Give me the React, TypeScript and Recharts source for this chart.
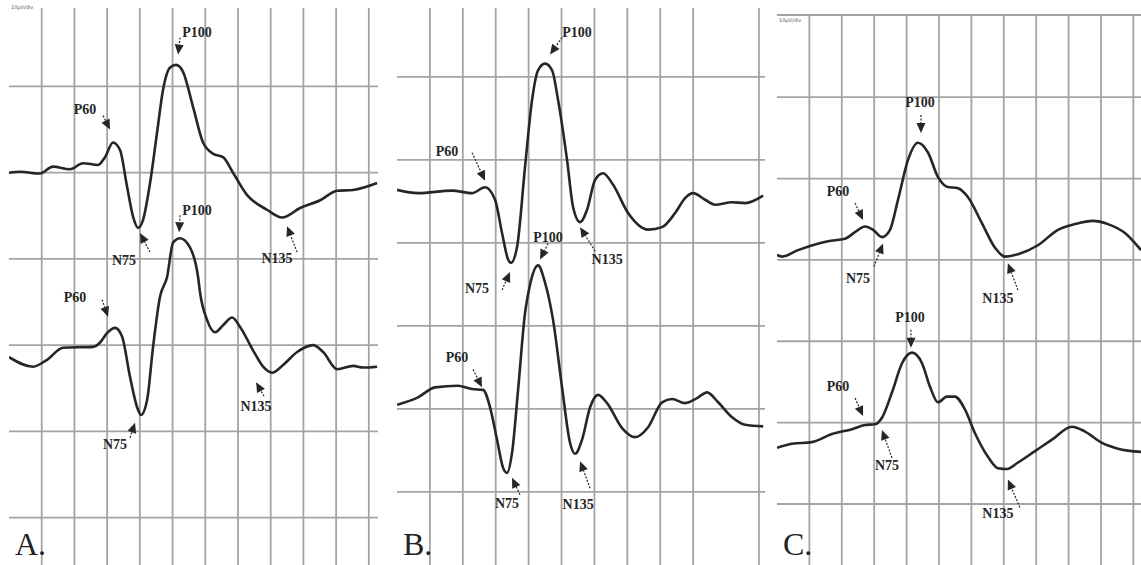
import React from 'react';
import { LineChart, Line, XAxis, YAxis, CartesianGrid, ReferenceDot, ReferenceLine } from 'recharts';

// time in ms (25 ms / division), amplitude in µV (10 µV / division)
const timeTicks = [0, 25, 50, 75, 100, 125, 150, 175, 200, 225, 250, 275];
const ampTicks = [-30, -20, -10, 0, 10, 20];

const aTop = [
  [0, 10.0], [8.4, 10.1], [23.7, 9.9], [33.6, 10.7], [46.6, 10.4], [56.6, 11.1], [68.0, 10.9],
  [73.4, 11.8], [79.5, 13.5], [84.9, 12.6], [90.2, 8.4], [94.8, 4.9], [98.6, 3.6], [102.4, 4.5],
  [107.8, 8.8], [113.1, 14.6], [117.7, 19.6], [123.1, 22.2], [127.7, 22.5], [133.0, 21.7],
  [140.7, 17.6], [148.3, 13.5], [156.0, 12.2], [163.6, 11.8], [171.2, 10.0], [182.0, 7.4],
  [197.2, 5.7], [208.7, 4.8], [222.5, 5.9], [237.8, 6.8], [250.8, 7.9], [263.0, 8.0], [281.3, 8.8],
];
const aBottom = [
  [0, -11.4], [18.3, -12.5], [29.1, -11.7], [41.3, -10.3], [64.2, -10.2], [69.6, -9.7], [74.9, -8.6],
  [81.0, -8.0], [86.4, -9.0], [92.5, -13.7], [97.9, -17.2], [100.9, -18.1], [105.5, -16.4],
  [110.1, -10.2], [115.4, -4.4], [120.8, -2.1], [125.4, 1.9], [130.7, 2.4], [138.4, 1.3],
  [144.5, -2.1], [146.0, -3.9], [151.4, -7.1], [157.5, -8.5], [163.6, -7.7], [170.5, -6.8],
  [176.6, -7.9], [186.5, -10.6], [194.2, -12.5], [201.1, -13.2], [209.5, -12.3], [220.2, -10.8],
  [232.4, -10.0], [240.1, -10.8], [250.8, -12.8], [263.0, -12.4], [270.6, -12.6], [281.3, -12.5],
];
const bTop = [
  [0, 6.4], [16.0, 6.0], [41.8, 6.3], [57.0, 6.0], [66.9, 6.7], [74.5, 5.2], [79.8, 1.2],
  [84.4, -2.0], [86.6, -2.4], [91.2, -0.5], [97.3, 9.2], [102.6, 17.2], [107.2, 20.8], [112.5, 21.6],
  [117.8, 20.8], [122.4, 17.2], [129.2, 10.0], [133.8, 4.3], [139.1, 2.5], [144.4, 4.0], [150.5, 7.6],
  [156.6, 8.4], [164.2, 7.0], [175.6, 3.6], [190.8, 1.6], [201.4, 1.9], [211.3, 3.6], [218.9, 5.4],
  [225.0, 6.0], [234.1, 5.2], [241.7, 4.6], [254.6, 4.9], [264.5, 4.8], [278.2, 5.7],
];
const bBottom = [
  [0, -19.5], [16.0, -18.6], [28.9, -17.4], [46.4, -17.2], [57.0, -17.6], [65.4, -17.7], [70.7, -19.8],
  [76.0, -23.7], [80.6, -27.1], [83.6, -27.7], [87.4, -25.3], [92.0, -17.7], [97.3, -8.4],
  [101.1, -5.0], [107.2, -2.7], [112.5, -4.8], [118.6, -9.3], [125.4, -17.4], [131.5, -24.1],
  [135.3, -25.4], [140.6, -23.7], [146.7, -19.8], [152.8, -18.3], [159.6, -19.3], [171.0, -22.3],
  [180.9, -23.4], [190.8, -22.2], [201.4, -19.2], [209.0, -18.8], [218.9, -19.3], [228.0, -18.7],
  [235.6, -18.0], [244.0, -19.2], [254.6, -21.0], [264.5, -21.9], [278.2, -22.1],
];
const cTop = [
  [0, 0.6], [3.9, 0.4], [16.2, 1.2], [39.4, 2.3], [52.5, 2.6], [60.2, 3.4], [67.9, 4.1], [74.1, 3.7],
  [81.0, 2.8], [87.2, 3.7], [93.4, 7.4], [101.1, 12.3], [108.8, 14.4], [116.5, 13.2], [124.2, 10.2],
  [131.2, 9.0], [139.7, 8.8], [147.4, 7.7], [158.2, 4.5], [168.2, 1.5], [175.9, 0.4], [186.0, 0.7],
  [201.4, 1.8], [216.8, 3.7], [229.9, 4.4], [243.8, 4.8], [255.4, 4.4], [268.5, 3.3], [280.9, 1.2],
];
const cBottom = [
  [0, -23.1], [11.6, -22.6], [27.0, -22.4], [42.4, -21.4], [57.9, -20.8], [67.9, -20.3], [75.6, -20.2],
  [81.0, -19.4], [88.7, -16.3], [96.5, -12.7], [104.2, -11.4], [111.9, -12.7], [118.1, -15.6],
  [124.2, -17.5], [131.2, -16.8], [137.3, -16.8], [145.1, -18.4], [152.8, -21.3], [162.8, -24.2],
  [170.5, -25.6], [177.5, -25.7], [186.0, -24.9], [199.1, -23.5], [212.2, -22.1], [227.6, -20.5],
  [237.7, -21.1], [250.8, -22.5], [263.1, -23.2], [280.9, -23.6],
];

// peak markers: label, t, v of the arrow tip; tail and text offsets in px
type Note = { label: string; t: number; v: number; tail: number[]; text: number[] };
const aNotes: Note[] = [
  { label: 'P60', t: 77.2, v: 15.0, tail: [-7, -14], text: [-25, -20] },
  { label: 'P100', t: 129.2, v: 23.7, tail: [2, -17], text: [19, -22] },
  { label: 'N75', t: 100.1, v: 3.0, tail: [10, 19], text: [-16, 27] },
  { label: 'N135', t: 212.5, v: 3.8, tail: [10, 26], text: [-10, 32] },
  { label: 'P100', t: 130.0, v: 3.1, tail: [1, -17], text: [18, -22] },
  { label: 'P60', t: 75.7, v: -6.7, tail: [-6, -17], text: [-33, -19] },
  { label: 'N75', t: 96.3, v: -19.0, tail: [-5, 15], text: [-20, 22] },
  { label: 'N135', t: 188.8, v: -14.3, tail: [8, 14], text: [0, 24] },
];
const bNotes: Note[] = [
  { label: 'P60', t: 66.9, v: 7.5, tail: [-13, -28], text: [-38, -29] },
  { label: 'P100', t: 116.3, v: 22.7, tail: [12, -17], text: [27, -22] },
  { label: 'N135', t: 139.1, v: 1.9, tail: [15, 24], text: [27, 32] },
  { label: 'N75', t: 85.9, v: -3.5, tail: [-8, 18], text: [-33, 17] },
  { label: 'P100', t: 108.7, v: -2.0, tail: [8, -16], text: [8, -22] },
  { label: 'P60', t: 64.6, v: -17.4, tail: [-9, -18], text: [-25, -30] },
  { label: 'N75', t: 87.4, v: -28.3, tail: [8, 17], text: [-5, 26] },
  { label: 'N135', t: 139.1, v: -26.3, tail: [10, 27], text: [-2, 43] },
];
const cNotes: Note[] = [
  { label: 'P100', t: 111.1, v: 15.6, tail: [0, -18], text: [-1, -30] },
  { label: 'P60', t: 66.4, v: 4.9, tail: [-8, -17], text: [-25, -29] },
  { label: 'N75', t: 81.8, v: 2.0, tail: [-9, 23], text: [-25, 35] },
  { label: 'N135', t: 178.2, v: -0.4, tail: [10, 27], text: [-10, 35] },
  { label: 'P100', t: 103.4, v: -10.8, tail: [0, -18], text: [-1, -30] },
  { label: 'P60', t: 66.4, v: -19.2, tail: [-8, -18], text: [-25, -30] },
  { label: 'N75', t: 81.0, v: -20.9, tail: [10, 28], text: [5, 36] },
  { label: 'N135', t: 178.2, v: -27.0, tail: [12, 28], text: [-10, 34] },
];

const toPts = (arr: number[][]) => arr.map(([t, v]) => ({ t, v }));

const panels = [
  { letter: 'A.', left: 9, top: 8, width: 369, height: 557, tMax: 282, vMin: -35.5, vMax: 29.1, traces: [aTop, aBottom], notes: aNotes, topLine: false },
  { letter: 'B.', left: 397, top: 8, width: 368, height: 557, tMax: 279.6, vMin: -38.8, vMax: 28.3, traces: [bTop, bBottom], notes: bNotes, topLine: false },
  { letter: 'C.', left: 777, top: 15, width: 364, height: 550, tMax: 280.9, vMin: -37.5, vMax: 30.1, traces: [cTop, cBottom], notes: cNotes, topLine: true },
];

const GRID = '#a4a4a4';
const INK = '#262626';
const M = 2;

function Arrow({ cx, cy, note }: { cx: number; cy: number; note: Note }) {
  const [dx, dy] = note.tail;
  const len = Math.hypot(dx, dy) || 1;
  const ux = -dx / len;
  const uy = -dy / len;
  const hl = 10;
  const hw = 4.5;
  const bx = cx - ux * hl;
  const by = cy - uy * hl;
  const nx = -uy;
  const ny = ux;
  return (
    <g>
      <line x1={cx + dx} y1={cy + dy} x2={bx} y2={by} stroke={INK} strokeWidth={1.2} strokeDasharray="2 1.5" />
      <polygon
        points={`${cx},${cy} ${bx + nx * hw},${by + ny * hw} ${bx - nx * hw},${by - ny * hw}`}
        fill={INK}
      />
      <text
        x={cx + note.text[0]}
        y={cy + note.text[1]}
        textAnchor="middle"
        dominantBaseline="central"
        fontFamily="'Liberation Serif', serif"
        fontWeight="bold"
        fontSize={14}
        fill={INK}
      >
        {note.label}
      </text>
    </g>
  );
}

function Panel({ p }: { p: (typeof panels)[number] }) {
  return (
    <div style={{ position: 'absolute', left: p.left - M, top: p.top - M }}>
      <LineChart width={p.width + 2 * M} height={p.height + 2 * M} margin={{ top: M, right: M, bottom: M, left: M }}>
        <CartesianGrid
          stroke={GRID}
          strokeWidth={1.8}
          strokeDasharray=""
          verticalValues={timeTicks}
          horizontalValues={ampTicks}
        />
        <XAxis type="number" dataKey="t" domain={[0, p.tMax]} ticks={timeTicks} hide allowDataOverflow />
        <YAxis type="number" dataKey="v" domain={[p.vMin, p.vMax]} ticks={ampTicks} hide allowDataOverflow />
        {p.topLine && <ReferenceLine y={p.vMax} stroke={GRID} strokeWidth={1.8} />}
        {p.traces.map((tr, i) => (
          <Line
            key={i}
            data={toPts(tr)}
            dataKey="v"
            type="monotone"
            stroke={INK}
            strokeWidth={2.6}
            dot={false}
            isAnimationActive={false}
          />
        ))}
        {p.notes.map((n, i) => (
          <ReferenceDot
            key={i}
            x={n.t}
            y={n.v}
            ifOverflow="visible"
            shape={(props: any) => <Arrow cx={props.cx} cy={props.cy} note={n} />}
          />
        ))}
      </LineChart>
    </div>
  );
}

export default function App() {
  return (
    <div style={{ position: 'absolute', left: 0, top: 0, width: 1141, height: 565, overflow: 'hidden', background: '#fff' }}>
      {panels.map((p) => (
        <Panel key={p.letter} p={p} />
      ))}
      <svg width={1141} height={565} style={{ position: 'absolute', left: 0, top: 0, pointerEvents: 'none' }}>
        {panels.map((p) => (
          <text key={p.letter} x={p.left + 6} y={555} fontFamily="'Liberation Serif', serif" fontSize={32} fill="#222">
            {p.letter}
          </text>
        ))}
        <text x={11} y={9} fontFamily="'DejaVu Sans', sans-serif" fontSize={5} fill="#555">10µV/div</text>
        <text x={779} y={22} fontFamily="'DejaVu Sans', sans-serif" fontSize={5} fill="#555">10µV/div</text>
      </svg>
    </div>
  );
}
